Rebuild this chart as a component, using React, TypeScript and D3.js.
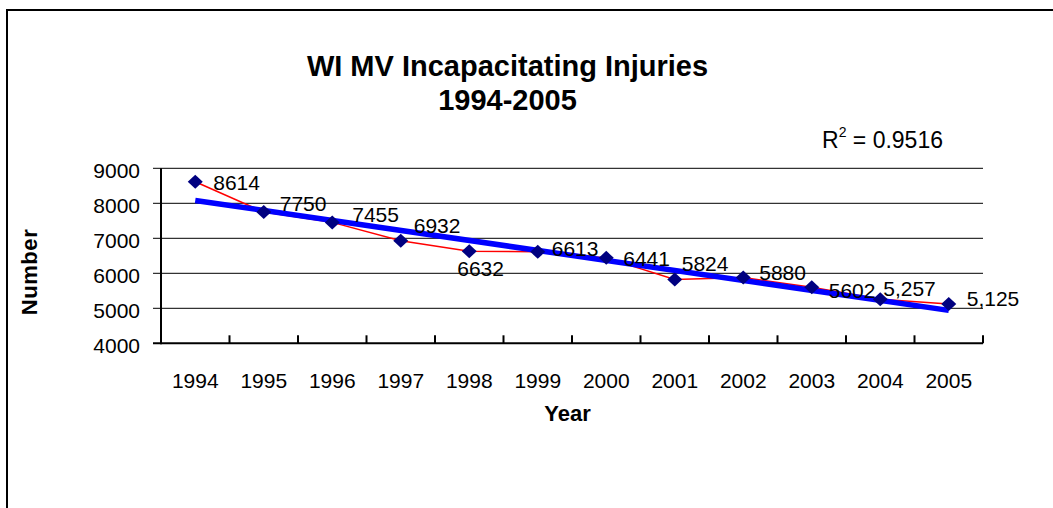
import React from "react";
import * as d3 from "d3";

const years = ["1994","1995","1996","1997","1998","1999","2000","2001","2002","2003","2004","2005"];
const injuries = [8614, 7750, 7455, 6932, 6632, 6613, 6441, 5824, 5880, 5602, 5257, 5125];
const valueLabels = ["8614","7750","7455","6932","6632","6613","6441","5824","5880","5602","5,257","5,125"];
const yTicks = [4000, 5000, 6000, 7000, 8000, 9000];
const titleLines = ["WI MV Incapacitating Injuries", "1994-2005"];
const r2Text = "0.9516";

// label offsets (layout only): dx = text left from point, dy = text center from point
const labelDx = [18, 16, 20, 13, -12, 14, 17, 7, 16, 17, 3, 18];
const labelDy = [1, -9, -8, -15, 17, -3, 1, -16, -5, 3, -11, -5];

const W = 1053, H = 508;
const left = 161, right = 983, top = 168.3, bottom = 343.3;
const FONT = "'Liberation Sans', Arial, sans-serif";

export default function App() {
  const x = d3.scalePoint<string>().domain(years).range([left, right]).padding(0.5);
  const y = d3.scaleLinear().domain([4000, 9000]).range([bottom, top]);
  const step = x.step();

  // linear regression trend
  const n = injuries.length;
  const xs = injuries.map((_, i) => i + 1);
  const mx = d3.mean(xs)!;
  const my = d3.mean(injuries)!;
  let sxy = 0, sxx = 0;
  xs.forEach((xi, i) => { sxy += (xi - mx) * (injuries[i] - my); sxx += (xi - mx) ** 2; });
  const slope = sxy / sxx;
  const icpt = my - slope * mx;
  const trend = [1, n].map(v => [x(years[v - 1])!, y(icpt + slope * v)] as [number, number]);

  const line = d3.line<number>().x((_, i) => x(years[i])!).y(d => y(d));
  const diamond = "M0,-7L7.5,0L0,7L-7.5,0Z";

  return (
    <svg width={W} height={H} style={{ position: "absolute", left: 0, top: 0, background: "#fff" }} fontFamily={FONT}>
      {/* chart border */}
      <path d={`M7,${H + 5} L7,10 L${W + 5},10`} fill="none" stroke="#000" strokeWidth={2} />

      {/* title */}
      <text x={507.5} y={76} textAnchor="middle" fontWeight="bold" fontSize={29}>{titleLines[0]}</text>
      <text x={507.5} y={110} textAnchor="middle" fontWeight="bold" fontSize={29}>{titleLines[1]}</text>

      {/* R squared */}
      <text x={822} y={148} fontSize={23}>
        R<tspan fontSize={14} dy={-11}>2</tspan><tspan dy={11}>{` = ${r2Text}`}</tspan>
      </text>

      {/* gridlines */}
      {yTicks.map(t => (
        <line key={t} x1={left - 8} x2={right} y1={y(t)} y2={y(t)} stroke="#000" strokeWidth={t === 4000 ? 2 : 1} />
      ))}
      {/* y axis */}
      <line x1={left} x2={left} y1={top} y2={bottom + 1} stroke="#000" strokeWidth={2} />
      {/* x ticks */}
      {years.map((_, i) => (
        <line key={i} x1={left + (i + 1) * step} x2={left + (i + 1) * step} y1={bottom - 8} y2={bottom} stroke="#000" strokeWidth={2} />
      ))}

      {/* y tick labels */}
      {yTicks.map(t => (
        <text key={t} x={140} y={y(t) + 10} textAnchor="end" fontSize={21}>{t}</text>
      ))}
      {/* x tick labels */}
      {years.map(yr => (
        <text key={yr} x={x(yr)} y={388} textAnchor="middle" fontSize={21}>{yr}</text>
      ))}

      {/* axis titles */}
      <text x={567.5} y={421} textAnchor="middle" fontWeight="bold" fontSize={22}>Year</text>
      <text transform="translate(36.5,272) rotate(-90)" textAnchor="middle" fontWeight="bold" fontSize={22} letterSpacing={0.6}>Number</text>

      {/* data line */}
      <path d={line(injuries)!} fill="none" stroke="#ff0000" strokeWidth={1.5} />
      {/* trend line */}
      <line x1={trend[0][0]} y1={trend[0][1]} x2={trend[1][0]} y2={trend[1][1]} stroke="#0000ff" strokeWidth={5.5} />
      {/* markers */}
      {injuries.map((v, i) => (
        <path key={i} d={diamond} transform={`translate(${x(years[i])},${y(v)})`} fill="#000080" />
      ))}
      {/* data labels */}
      {injuries.map((v, i) => (
        <text key={i} x={x(years[i])! + labelDx[i]} y={y(v) + labelDy[i] + 7.5} fontSize={21}>{valueLabels[i]}</text>
      ))}
    </svg>
  );
}
